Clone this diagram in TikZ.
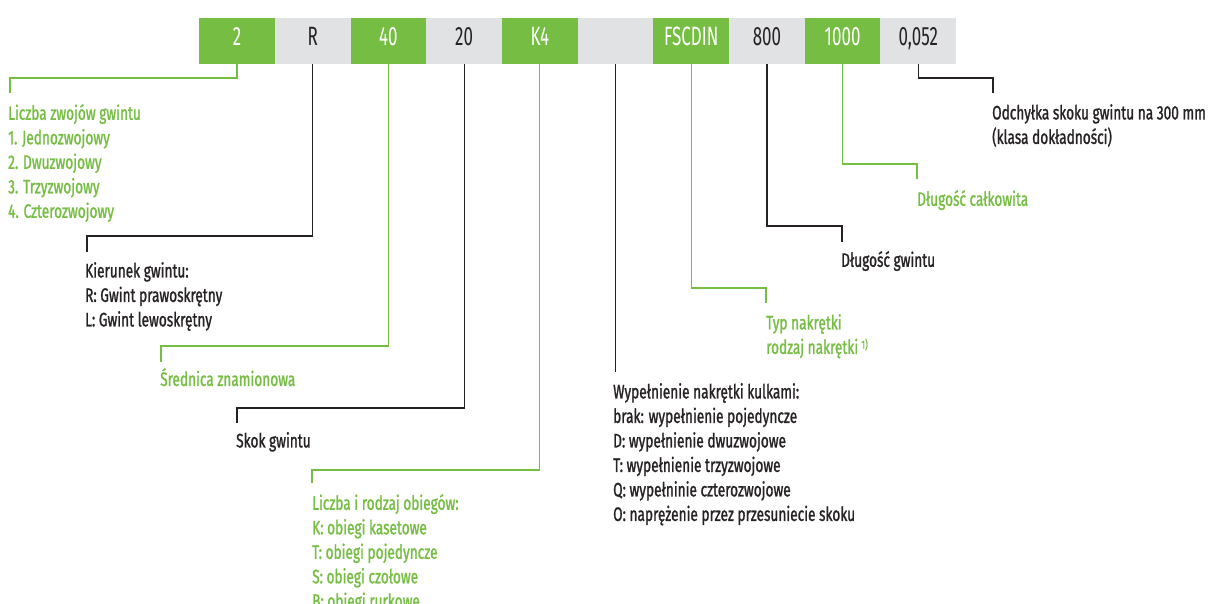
\documentclass[tikz,border=0pt]{standalone}
\usepackage{fontspec}
\setmainfont{Fira Sans}[FakeStretch=0.7, FakeBold=1.2]
\newfontfamily\barfont{Fira Sans}[FakeStretch=0.64]
\usetikzlibrary{positioning}
\definecolor{fgreen}{HTML}{76BD43}
\definecolor{fgray}{HTML}{E1E2E4}
\definecolor{fdark}{HTML}{262223}

\begin{document}
\begin{tikzpicture}[
                    x=1pt, y=1pt,
                    cell/.style={minimum width=75.7pt, minimum height=46pt, inner sep=0pt, text height=18pt, text depth=8pt, font=\barfont\fontsize{26.5}{26.5}\selectfont},
                    gcell/.style={cell, fill=fgreen, text=white},
                    wcell/.style={cell, fill=fgray, text=fdark},
                    lab/.style={anchor=north west, inner sep=0pt, align=left, font=\fontsize{19.5}{24.5}\selectfont},
                    glab/.style={lab, text=fgreen},
                    dlab/.style={lab, text=fdark},
                    gline/.style={fgreen, line width=1.2pt},
                    dline/.style={fdark, line width=1.2pt}
                ]
                \useasboundingbox (0,0) rectangle (1216,-604);
                \foreach \t/\s [count=\i] in {2/gcell, R/wcell, 40/gcell, 20/wcell, K4/gcell, {}/wcell, FSCDIN/gcell, 800/wcell, 1000/gcell, {0,052}/wcell}{
                        \node[\s] (c\i) at (237+75.7*\i-75.7,-41) {\t};
                    }

                \node[glab] (zw) at (8,-104) {Liczba zwojów gwintu\\1. Jednozwojowy\\2. Dwuzwojowy\\3. Trzyzwojowy\\4. Czterozwojowy};
                \node[dlab] (kier) at (85,-262) {Kierunek gwintu:\\R: Gwint prawoskrętny\\L: Gwint lewoskrętny};
                \node[glab] (sred) at (160,-368) {Średnica znamionowa};
                \node[dlab] (skok) at (236,-432) {Skok gwintu};
                \node[glab] (obieg) at (312,-494) {Liczba i rodzaj obiegów:\\K: obiegi kasetowe\\T: obiegi pojedyncze\\S: obiegi czołowe\\B: obiegi rurkowe};
                \node[dlab] (wyp) at (613,-383) {Wypełnienie nakrętki kulkami:\\brak: wypełnienie pojedyncze\\D: wypełnienie dwuzwojowe\\T: wypełnienie trzyzwojowe\\Q: wypełninie czterozwojowe\\O: naprężenie przez przesuniecie skoku};
                \node[glab] (typ) at (766,-314) {Typ nakrętki\\rodzaj nakrętki\,{\fontsize{12}{12}\selectfont\raisebox{5pt}{1)}}};
                \node[dlab] (dlg) at (841,-251) {Długość gwintu};
                \node[glab] (dlc) at (917,-190) {Długość całkowita};
                \node[dlab] (odch) at (992,-104) {Odchyłka skoku gwintu na 300 mm\\(klasa dokładności)};

                \foreach \c/\l/\x/\y/\st/\g in {1/zw/10/78/gline/11, 2/kier/87/236/dline/10, 3/sred/161/346/gline/6, 4/skok/237/408/dline/9, 5/obieg/312/470/gline/11,
                                             7/typ/766/288/gline/11, 8/dlg/842/226/dline/9, 9/dlc/917/164/gline/11, 10/odch/993/78/dline/11}{
                        \coordinate (k\c) at (\x,-\y);
                        \draw[\st, shorten >=\g pt] (c\c.south) |- (k\c) -- (k\c |- \l.north);
                    }
                \draw[dline, shorten >=11pt] (c6.south) -- (c6.south |- wyp.north);
            \end{tikzpicture}
\end{document}
